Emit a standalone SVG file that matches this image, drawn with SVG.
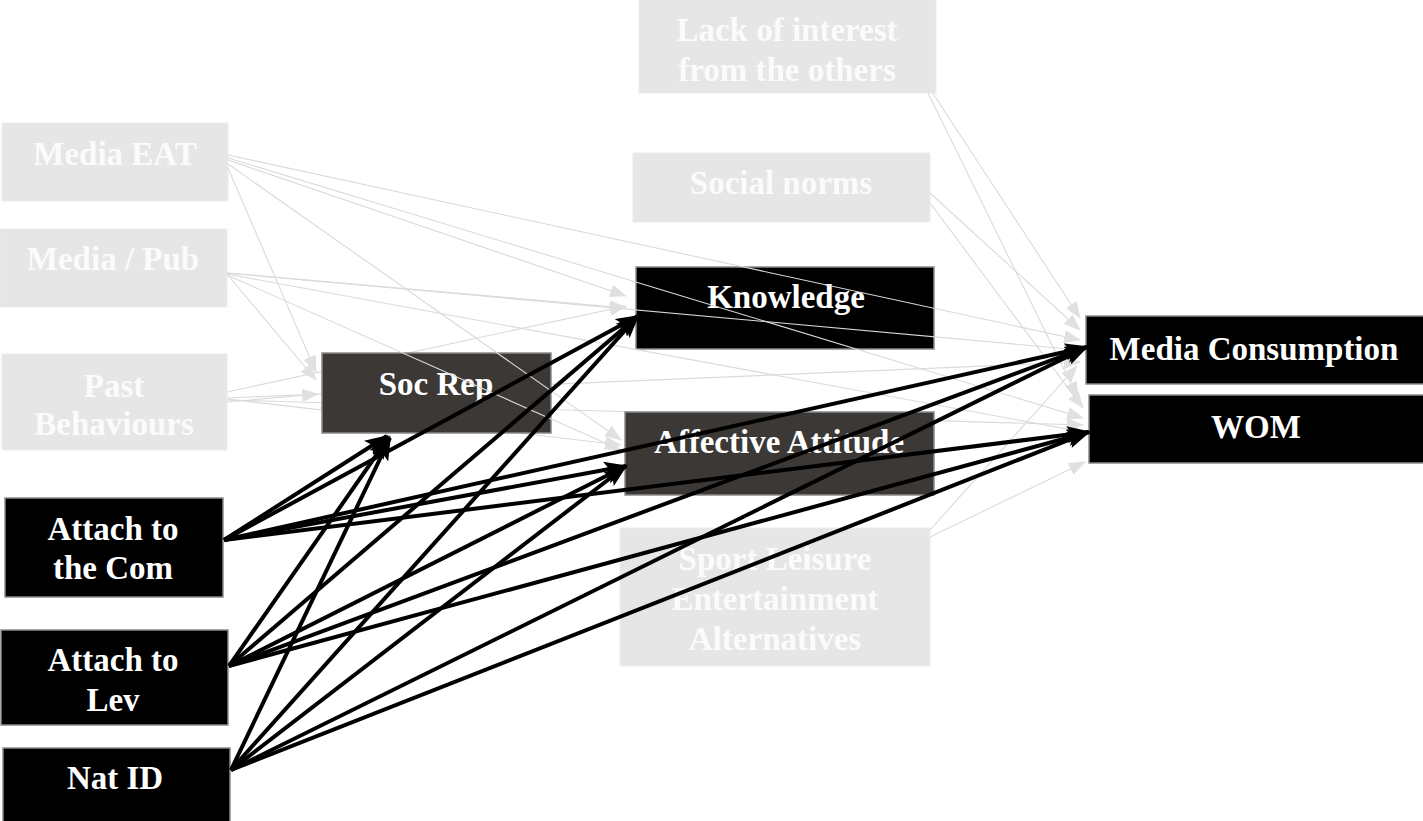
<svg xmlns="http://www.w3.org/2000/svg" width="1423" height="821" viewBox="0 0 1423 821">
<style>
.lt{fill:#e6e6e6;stroke:#ececec;stroke-width:1}
.dk{fill:#3b3836;stroke:#8a8a8a;stroke-width:1.5}
.bk{fill:#000;stroke:#8a8a8a;stroke-width:1.5}
text{font-family:"Liberation Serif","DejaVu Serif",serif;font-weight:bold;font-size:33px;fill:#fff;text-anchor:middle}
.lt-t{fill:#fbfbfb}
.g{stroke:#dadada;stroke-width:1.1;fill:none;marker-end:url(#ag)}
.b{stroke:#000;stroke-width:4;fill:none;marker-end:url(#ab)}
</style>
<defs>
<marker id="ag" markerUnits="userSpaceOnUse" markerWidth="17" markerHeight="13" refX="16" refY="6.5" orient="auto" viewBox="0 0 17 13">
<path d="M0,0 L17,6.5 L0,13 z" fill="#e0e0e0"/>
</marker>
<marker id="ab" markerUnits="userSpaceOnUse" markerWidth="24" markerHeight="17" refX="22" refY="8.5" orient="auto" viewBox="0 0 24 17">
<path d="M0,0 L24,8.5 L0,17 L5,8.5 z" fill="#000"/>
</marker>
</defs>
<rect width="1423" height="821" fill="#fff"/>
<g id="connectors-back">
<line class="g" x1="227" y1="392" x2="626" y2="306"/>
<line class="g" x1="227" y1="398" x2="1080" y2="362"/>
<line class="g" x1="227" y1="400" x2="1083" y2="425"/>
<line class="g" x1="227" y1="399" x2="621" y2="445"/>
</g>
<g id="node-media-eat"><rect class="lt" x="2" y="123" width="226" height="78"/><text class="lt-t" x="115" y="165">Media EAT</text></g>
<g id="node-media-pub"><rect class="lt" x="0" y="229" width="227" height="78"/><text class="lt-t" x="113" y="270">Media / Pub</text></g>
<g id="node-past"><rect class="lt" x="2" y="354" width="225" height="96"/><text class="lt-t" x="114" y="397">Past</text><text class="lt-t" x="114" y="435">Behaviours</text></g>
<g id="node-soc-rep"><rect class="dk" x="322" y="353" width="229" height="80"/><text x="436" y="395">Soc Rep</text></g>
<g id="node-lack"><rect class="lt" x="639" y="-2" width="297" height="95"/><text class="lt-t" x="787" y="41">Lack of interest</text><text class="lt-t" x="787" y="81">from the others</text></g>
<g id="node-social-norms"><rect class="lt" x="633" y="153" width="297" height="69"/><text class="lt-t" x="781" y="194">Social norms</text></g>
<g id="node-knowledge"><rect class="bk" x="636" y="267" width="298" height="82"/><text x="786" y="308">Knowledge</text></g>
<g id="node-affective"><rect class="dk" x="625" y="412" width="309" height="83"/><text x="779" y="453">Affective Attitude</text></g>
<g id="node-sport"><rect class="lt" x="620" y="528" width="310" height="138"/><text class="lt-t" x="775" y="570">Sport Leisure</text><text class="lt-t" x="775" y="610">Entertainment</text><text class="lt-t" x="775" y="650">Alternatives</text></g>
<g id="node-media-consumption"><rect class="bk" x="1086" y="316" width="340" height="68"/><text x="1254" y="360">Media Consumption</text></g>
<g id="node-wom"><rect class="bk" x="1089" y="395" width="337" height="68"/><text x="1256" y="438">WOM</text></g>
<g id="node-attach-com"><rect class="bk" x="5" y="498" width="218" height="99"/><text x="113" y="540">Attach to</text><text x="113" y="579">the Com</text></g>
<g id="node-attach-lev"><rect class="bk" x="1" y="630" width="227" height="95"/><text x="113" y="671">Attach to</text><text x="113" y="711">Lev</text></g>
<g id="node-nat-id"><rect class="bk" x="3" y="748" width="227" height="80"/><text x="115" y="789">Nat ID</text></g>
<g id="connectors">
<line class="g" x1="228" y1="168" x2="316" y2="372"/>
<line class="g" x1="228" y1="160" x2="626" y2="296"/>
<line class="g" x1="228" y1="164" x2="621" y2="440"/>
<line class="g" x1="228" y1="155" x2="1080" y2="340"/>
<line class="g" x1="228" y1="158" x2="1083" y2="418"/>
<line class="g" x1="227" y1="274" x2="316" y2="380"/>
<line class="g" x1="227" y1="273" x2="626" y2="308"/>
<line class="g" x1="227" y1="275" x2="621" y2="450"/>
<line class="g" x1="227" y1="273" x2="1080" y2="350"/>
<line class="g" x1="227" y1="274" x2="1083" y2="432"/>
<line class="g" x1="227" y1="402" x2="318" y2="394"/>
<line class="g" x1="932" y1="92" x2="1080" y2="318"/>
<line class="g" x1="928" y1="93" x2="1078" y2="398"/>
<line class="g" x1="930" y1="193" x2="1080" y2="330"/>
<line class="g" x1="930" y1="203" x2="1083" y2="408"/>
<line class="g" x1="930" y1="530" x2="1077" y2="366"/>
<line class="g" x1="930" y1="537" x2="1085" y2="462"/>
<line class="b" x1="224" y1="540" x2="387" y2="436"/>
<line class="b" x1="224" y1="540" x2="638" y2="316"/>
<line class="b" x1="224" y1="540" x2="626" y2="466"/>
<line class="b" x1="224" y1="540" x2="1087" y2="347"/>
<line class="b" x1="224" y1="540" x2="1089" y2="432"/>
<line class="b" x1="229" y1="666" x2="389" y2="437"/>
<line class="b" x1="229" y1="666" x2="638" y2="316"/>
<line class="b" x1="229" y1="666" x2="626" y2="466"/>
<line class="b" x1="229" y1="666" x2="1087" y2="347"/>
<line class="b" x1="229" y1="666" x2="1089" y2="432"/>
<line class="b" x1="231" y1="770" x2="390" y2="438"/>
<line class="b" x1="231" y1="770" x2="638" y2="316"/>
<line class="b" x1="231" y1="770" x2="626" y2="466"/>
<line class="b" x1="231" y1="770" x2="1087" y2="347"/>
<line class="b" x1="231" y1="770" x2="1089" y2="432"/>
</g>
</svg>
